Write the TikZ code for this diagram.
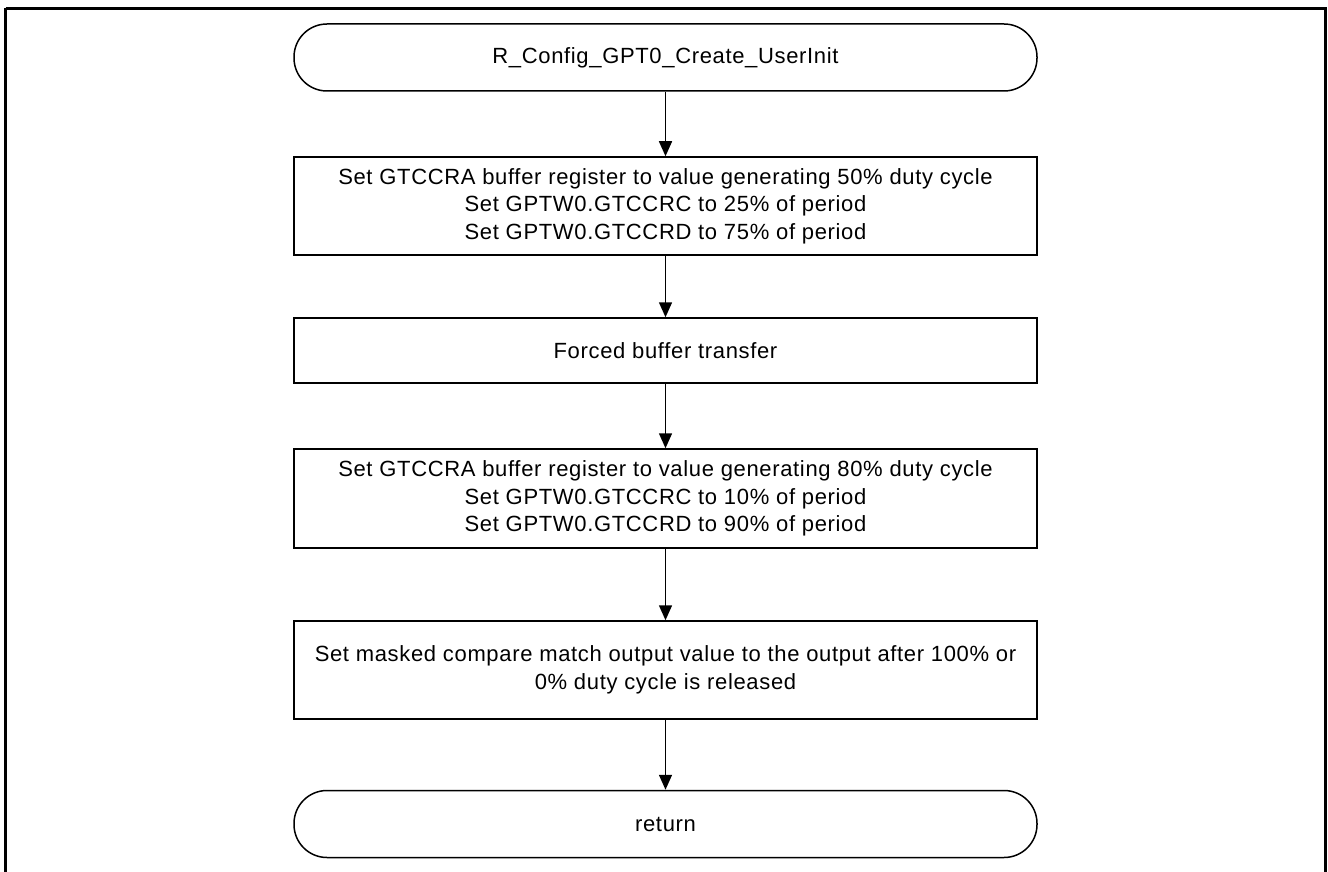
\documentclass[tikz,border=0pt]{standalone}
\usepackage{fontspec}
\setmainfont{Liberation Sans}[LetterSpace=3]
\usetikzlibrary{arrows.meta}
\begin{document}
\begin{tikzpicture}[x=1pt,y=-1pt,
  every node/.style={font=\fontsize{22}{27.5}\selectfont, inner sep=0pt},
  procbox/.style={draw, line width=1.5pt, minimum width=743pt, align=center},
  termbox/.style={draw, line width=1.5pt, rounded corners=33pt, minimum width=743pt, minimum height=67pt},
  flow/.style={line width=1.5pt, -{Triangle[width=13pt,length=15pt]}}]
\useasboundingbox (0,0) rectangle (1328,872);
\begin{scope}
\clip (0,0) rectangle (1328,872);
\draw[line width=2.6pt] (5.5,8.5) -- (1325.5,8.5) -- (1325.5,900) (5.5,900) -- (5.5,8.5);
\end{scope}
\node[termbox] (start) at (665.5,57.5) {R\_Config\_GPT0\_Create\_UserInit};
\node[procbox, minimum height=98pt] (b1) at (665.5,206) {Set GTCCRA buffer register to value generating 50\% duty cycle\\Set GPTW0.GTCCRC to 25\% of period\\Set GPTW0.GTCCRD to 75\% of period};
\node[procbox, minimum height=65pt] (b2) at (665.5,350.5) {Forced buffer transfer};
\node[procbox, minimum height=99pt] (b3) at (665.5,498.5) {Set GTCCRA buffer register to value generating 80\% duty cycle\\Set GPTW0.GTCCRC to 10\% of period\\Set GPTW0.GTCCRD to 90\% of period};
\node[procbox, minimum height=98pt] (b4) at (665.5,670) {Set masked compare match output value to the output after 100\% or\\0\% duty cycle is released};
\node[termbox] (end) at (665.5,824) {return};
\draw[flow] (start) -- (b1);
\draw[flow] (b1) -- (b2);
\draw[flow] (b2) -- (b3);
\draw[flow] (b3) -- (b4);
\draw[flow] (b4) -- (end);
\end{tikzpicture}
\end{document}
